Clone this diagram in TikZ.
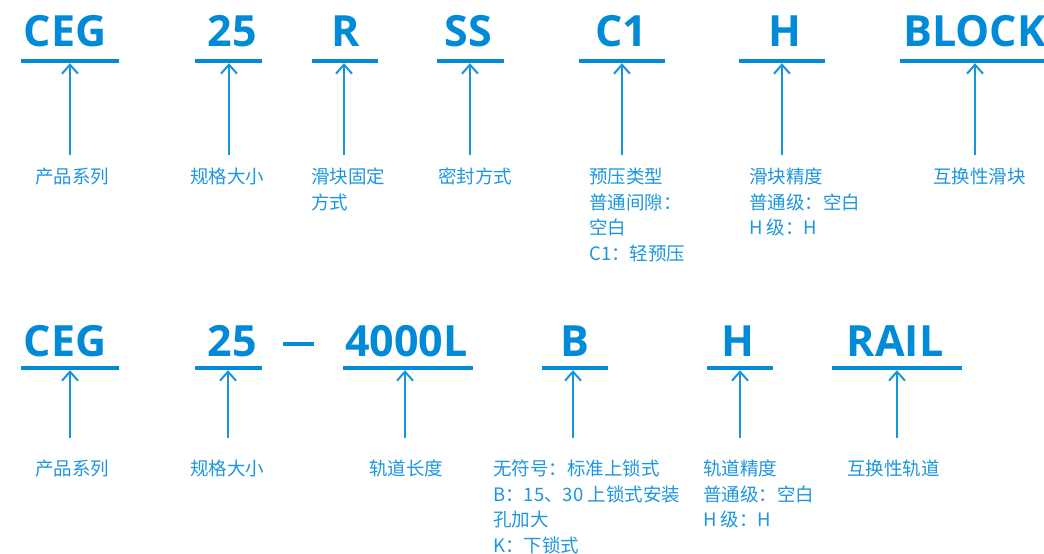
\documentclass[tikz,border=0pt]{standalone}
\usepackage{fontspec}
\usetikzlibrary{arrows.meta}
\newfontfamily\titlefont{Open Sans}
\newfontfamily\cjk{Noto Sans CJK SC}
\definecolor{titleblue}{RGB}{0,138,216}
\definecolor{lblblue}{RGB}{28,150,220}
\definecolor{arrowblue}{RGB}{24,148,220}
\tikzset{
  title/.style={font=\titlefont\bfseries\fontsize{43}{43}\selectfont, text=titleblue, inner sep=0pt, anchor=base},
  bar/.style={fill=titleblue, draw=none, inner sep=0pt, minimum height=4pt},
  lbl/.style={font=\cjk\fontsize{18.5}{25.5}\selectfont, text=lblblue, inner sep=0pt, anchor=north west, align=left},
  arr/.style={draw=arrowblue, line width=2pt, -{Straight Barb[length=9pt,width=16pt]}}
}
\begin{document}
\begin{tikzpicture}[x=1pt,y=-1pt]
\useasboundingbox (0,0) rectangle (1044,554);
% ---------- row 1 ----------
\node[title] (t1) at (65,46) {CEG};
\node[title] (t2) at (232,46) {25};
\node[title] (t3) at (345.5,46) {R};
\node[title] (t4) at (468.5,46) {SS};
\node[title] (t5) at (621.5,46) {C1};
\node[title] (t6) at (785,46) {H};
\node[title,anchor=base west] (t7) at (903,46) {BLOCK};
\node[bar,minimum width=98pt] (u1) at (70,61) {};
\node[bar,minimum width=67pt] (u2) at (228.5,61) {};
\node[bar,minimum width=66pt] (u3) at (345,61) {};
\node[bar,minimum width=67pt] (u4) at (470.5,61) {};
\node[bar,minimum width=86pt] (u5) at (622,61) {};
\node[bar,minimum width=86pt] (u6) at (782,61) {};
\node[bar,minimum width=151pt] (u7) at (975.5,61) {};
\node[lbl] (l1) at (35,168) {产品系列};
\node[lbl] (l2) at (190,168) {规格大小};
\node[lbl] (l3) at (311,168) {滑块固定\\方式};
\node[lbl] (l4) at (438,168) {密封方式};
\node[lbl] (l5) at (589,168) {预压类型\\普通间隙：\\空白\\C1：轻预压};
\node[lbl] (l6) at (749,168) {滑块精度\\普通级：空白\\H 级：H};
\node[lbl] (l7) at (933,168) {互换性滑块};
\coordinate (a1) at (70,155);
\coordinate (a2) at (229,155);
\coordinate (a3) at (344,155);
\coordinate (a4) at (470,155);
\coordinate (a5) at (622,155);
\coordinate (a6) at (782,155);
\coordinate (a7) at (975,155);
\foreach \i in {1,...,7} \draw[arr] (a\i) -- (a\i |- u\i.south);
% ---------- row 2 ----------
\node[title] (s1) at (65,356) {CEG};
\node[title] (s2) at (232,356) {25};
\node[bar,minimum width=31pt,minimum height=3.5pt] (dash) at (298.5,344) {};
\node[title] (s3) at (406.5,356) {4000L};
\node[title] (s4) at (574.5,356) {B};
\node[title] (s5) at (738,356) {H};
\node[title] (s6) at (895,356) {RAIL};
\node[bar,minimum width=98pt] (v1) at (70,368) {};
\node[bar,minimum width=67pt] (v2) at (228.5,368) {};
\node[bar,minimum width=130pt] (v3) at (408,368) {};
\node[bar,minimum width=66pt] (v4) at (575,368) {};
\node[bar,minimum width=66pt] (v5) at (740,368) {};
\node[bar,minimum width=130pt] (v6) at (897,368) {};
\node[lbl] (m1) at (35,460) {产品系列};
\node[lbl] (m2) at (190,460) {规格大小};
\node[lbl] (m3) at (369,460) {轨道长度};
\node[lbl] (m4) at (493,460) {无符号：标准上锁式\\B：15、30 上锁式安装\\孔加大\\K：下锁式};
\node[lbl] (m5) at (703,460) {轨道精度\\普通级：空白\\H 级：H};
\node[lbl] (m6) at (847,460) {互换性轨道};
\coordinate (b1) at (70,438);
\coordinate (b2) at (228,438);
\coordinate (b3) at (405,438);
\coordinate (b4) at (573,438);
\coordinate (b5) at (740,438);
\coordinate (b6) at (897,438);
\foreach \i in {1,...,6} \draw[arr] (b\i) -- (b\i |- v\i.south);
\end{tikzpicture}
\end{document}
